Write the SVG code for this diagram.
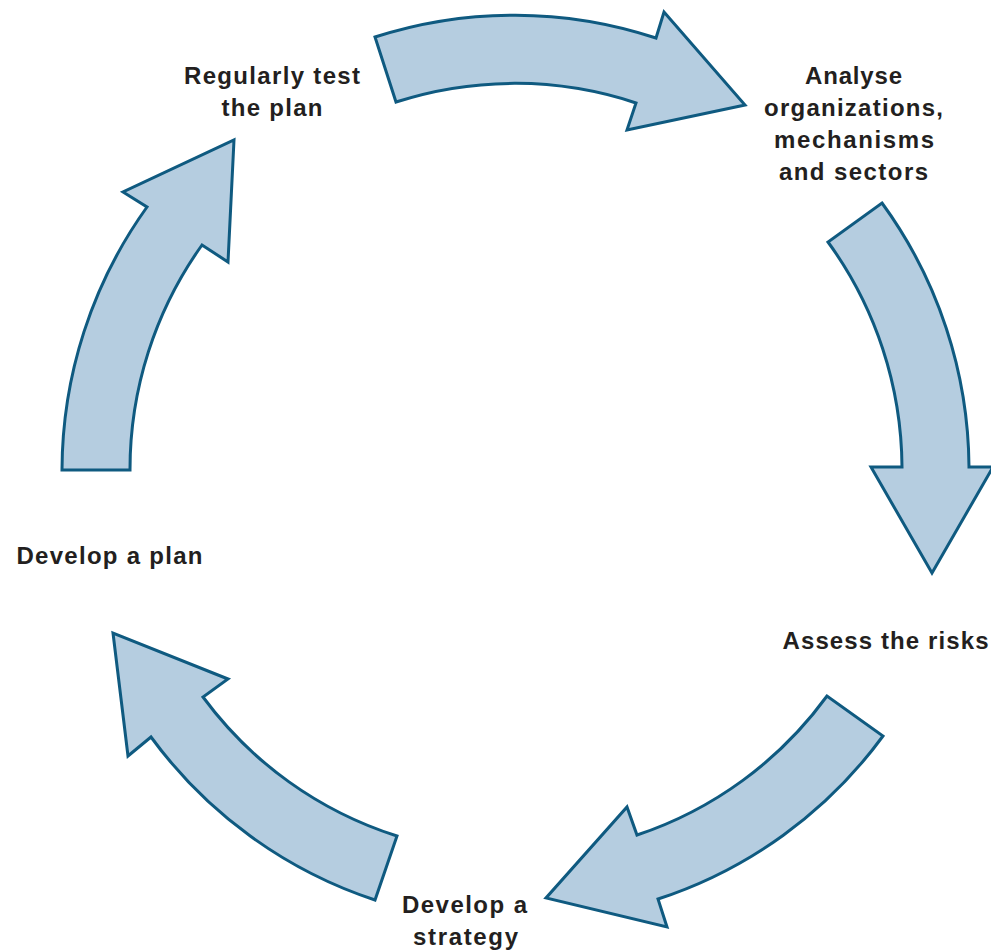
<svg xmlns="http://www.w3.org/2000/svg" width="991" height="950" viewBox="0 0 991 950">
<style>
.arrow{fill:#b5cde0;stroke:#0f5a80;stroke-width:3;stroke-linejoin:miter}
.lbl{font-family:"Liberation Sans",Arial,sans-serif;font-weight:bold;font-size:24px;fill:#231f20;text-anchor:middle}
</style>
<rect width="991" height="950" fill="#ffffff"/>
<g id="connectors">
<path id="arrow-top" class="arrow" d="M375,37 A453,453 0 0 1 656,38 L664,12 L745,105 L627,130 L636,103 A386,386 0 0 0 396,102 Z"/>
<path id="arrow-right" class="arrow" d="M882,203 A453,453 0 0 1 969,467 L993,467 L932,573 L871,467 L902,467 A386,386 0 0 0 828,242 Z"/>
<path id="arrow-bottom-right" class="arrow" d="M883,736 A453,453 0 0 1 658,899 L667,927 L546,898 L627,807 L637,835 A386,386 0 0 0 827,696 Z"/>
<path id="arrow-bottom-left" class="arrow" d="M375,900 A453,453 0 0 1 151,737 L128,756 L113,633 L228,679 L203,697 A386,386 0 0 0 397,836 Z"/>
<path id="arrow-left" class="arrow" d="M62,470 A453,453 0 0 1 147,207 L123,192 L234,140 L228,262 L202,245 A386,386 0 0 0 130,470 Z"/>
</g>
<g id="node-test">
<text class="lbl" x="272" y="84" textLength="176" lengthAdjust="spacing">Regularly test</text>
<text class="lbl" x="272" y="116" textLength="101" lengthAdjust="spacing">the plan</text>
</g>
<g id="node-analyse">
<text class="lbl" x="853.5" y="84" textLength="97" lengthAdjust="spacing">Analyse</text>
<text class="lbl" x="853.5" y="116" textLength="179" lengthAdjust="spacing">organizations,</text>
<text class="lbl" x="854" y="148" textLength="160" lengthAdjust="spacing">mechanisms</text>
<text class="lbl" x="853.5" y="180" textLength="149" lengthAdjust="spacing">and sectors</text>
</g>
<g id="node-assess">
<text class="lbl" x="885.5" y="649" textLength="206" lengthAdjust="spacing">Assess the risks</text>
</g>
<g id="node-strategy">
<text class="lbl" x="464.5" y="913" textLength="125" lengthAdjust="spacing">Develop a</text>
<text class="lbl" x="465.5" y="945" textLength="105" lengthAdjust="spacing">strategy</text>
</g>
<g id="node-plan">
<text class="lbl" x="109.5" y="564" textLength="186" lengthAdjust="spacing">Develop a plan</text>
</g>
</svg>
